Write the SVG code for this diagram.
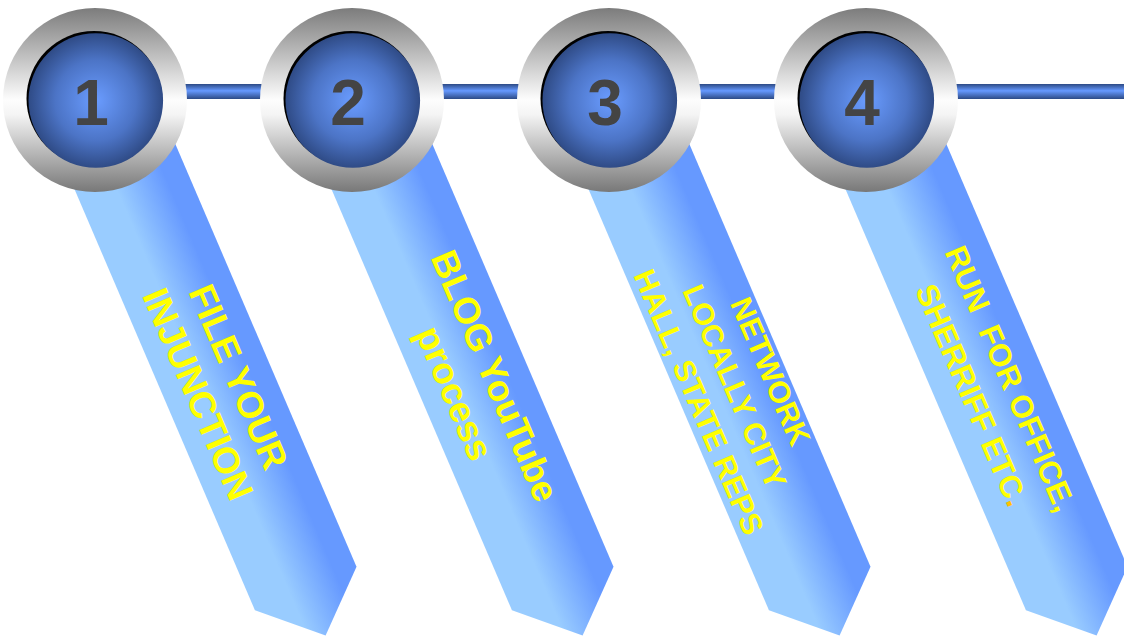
<svg xmlns="http://www.w3.org/2000/svg" width="1124" height="637" viewBox="0 0 1124 637">
<defs>
<linearGradient id="lineGrad" x1="0" y1="0" x2="0" y2="1">
<stop offset="0" stop-color="#2c4a85"/>
<stop offset="0.45" stop-color="#6699ff"/>
<stop offset="1" stop-color="#2c4a85"/>
</linearGradient>
<linearGradient id="ribGrad" gradientUnits="userSpaceOnUse" x1="0" y1="54" x2="0" y2="-56.5">
<stop offset="0" stop-color="#99ccff"/>
<stop offset="0.35" stop-color="#99ccff"/>
<stop offset="0.8" stop-color="#6699ff"/>
<stop offset="1" stop-color="#6699ff"/>
</linearGradient>
<linearGradient id="ringGrad" x1="0" y1="0" x2="0" y2="1">
<stop offset="0" stop-color="#7c7c7c"/>
<stop offset="0.5" stop-color="#fdfdfd"/>
<stop offset="0.58" stop-color="#f4f4f4"/>
<stop offset="1" stop-color="#787878"/>
</linearGradient>
<radialGradient id="ballGrad" cx="0.5" cy="0.5" r="0.5">
<stop offset="0" stop-color="#6a9cff"/>
<stop offset="0.6" stop-color="#4c74c6"/>
<stop offset="1" stop-color="#2f4b86"/>
</radialGradient>
<polygon id="ribbon" points="-10,-56.5 532,-56.5 583,-1 532,54 -10,54" fill="url(#ribGrad)"/>
<g id="ball">
<circle r="92" fill="url(#ringGrad)"/>
<circle cx="-1" cy="-1.5" r="67.5" fill="#000"/>
<circle cx="0.8" cy="0.5" r="67.3" fill="url(#ballGrad)"/>
</g>
</defs>
<style>
.lbl{font-family:"Liberation Sans",Arial,sans-serif;font-weight:bold;fill:#ffff00;text-anchor:middle}
.num{font-family:"Liberation Sans",Arial,sans-serif;font-weight:bold;fill:#444444;font-size:64px;text-anchor:middle}
</style>
<rect width="1124" height="637" fill="#ffffff"/>
<g id="connectors">
<rect x="95" y="84" width="1029" height="15" fill="url(#lineGrad)"/>
</g>
<g id="step1">
<g transform="translate(95,100) rotate(66.8)">
<use href="#ribbon"/>
<text class="lbl" font-size="37" x="311" y="-10">FILE YOUR</text>
<text class="lbl" font-size="37" x="311" y="34">INJUNCTION</text>
</g>
<use href="#ball" x="95" y="100"/>
<text class="num" x="91" y="125">1</text>
</g>
<g id="step2">
<g transform="translate(352,100) rotate(66.8)">
<use href="#ribbon"/>
<text class="lbl" font-size="37" x="310" y="-10">BLOG YouTube</text>
<text class="lbl" font-size="37" x="310" y="34">process</text>
</g>
<use href="#ball" x="352" y="100"/>
<text class="num" x="348" y="125">2</text>
</g>
<g id="step3">
<g transform="translate(609,100) rotate(66.8)">
<use href="#ribbon"/>
<text class="lbl" font-size="30.5" x="313" y="-31">NETWORK</text>
<text class="lbl" font-size="30.5" x="313" y="8">LOCALLY CITY</text>
<text class="lbl" font-size="30.5" x="313" y="47">HALL, STATE REPS</text>
</g>
<use href="#ball" x="609" y="100"/>
<text class="num" x="605" y="125">3</text>
</g>
<g id="step4">
<g transform="translate(866,100) rotate(66.8)">
<use href="#ribbon"/>
<text class="lbl" font-size="31.5" x="313" y="-12" xml:space="preserve">RUN  FOR OFFICE,</text>
<text class="lbl" font-size="31.5" x="313" y="30">SHERRIFF ETC<tspan fill="#ffc000">.</tspan></text>
</g>
<use href="#ball" x="866" y="100"/>
<text class="num" x="862" y="125">4</text>
</g>
</svg>
